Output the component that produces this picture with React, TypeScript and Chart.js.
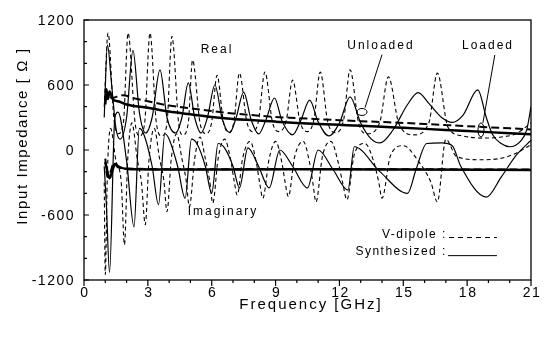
import { useEffect, useRef } from "react";
import { Chart, registerables } from "chart.js";
Chart.register(...registerables);

// [frequency GHz, impedance ohm]
const dipoleReal: number[][] = [
  [0.95, 400], [1.13, 1080], [1.4, 300], [1.6, 150], [1.85, 250], [2.07, 1080], [2.4, 250], [2.6, 130],
  [2.85, 250], [3.1, 1080], [3.4, 250], [3.65, 130], [3.9, 250], [4.13, 1050], [4.45, 240], [4.65, 140],
  [4.9, 250], [5.1, 830], [5.45, 250], [5.75, 150], [6.0, 260], [6.25, 690], [6.55, 260], [6.8, 160],
  [7.05, 270], [7.3, 710], [7.65, 260], [7.9, 170], [8.2, 270], [8.5, 720], [8.85, 260], [9.15, 170],
  [9.5, 270], [9.8, 645], [10.15, 260], [10.5, 170], [10.8, 280], [11.1, 720], [11.45, 260], [11.8, 160],
  [12.2, 280], [12.5, 740], [12.9, 250], [13.3, 150], [13.9, 260], [14.3, 675], [14.8, 240], [15.5, 140],
  [16.2, 250], [16.6, 710], [17.1, 210], [17.8, 130], [18.7, 110], [19.6, 120], [20.3, 150], [21, 250],
];
const dipoleImag: number[][] = [
  [0.95, -300], [1.0, -1150], [1.1, -200], [1.25, 200], [1.5, -100], [1.75, -300], [1.9, -875], [2.05, -100],
  [2.25, 250], [2.5, -80], [2.7, -300], [2.88, -690], [3.05, -100], [3.3, 200], [3.55, -80], [3.75, -280],
  [3.9, -570], [4.1, -80], [4.35, 150], [4.6, -80], [4.8, -280], [4.95, -525], [5.2, -80], [5.45, 120],
  [5.7, -80], [5.9, -280], [6.05, -490], [6.3, -80], [6.6, 100], [6.9, -100], [7.05, -280], [7.2, -415],
  [7.45, -80], [7.8, 80], [8.1, -120], [8.25, -300], [8.4, -445], [8.7, -80], [9.0, 80], [9.3, -120],
  [9.45, -300], [9.6, -430], [9.9, -60], [10.3, 80], [10.6, -120], [10.75, -300], [10.9, -480], [11.2, -60],
  [11.6, 80], [11.95, -120], [12.15, -300], [12.35, -460], [12.7, -40], [13.2, 60], [13.6, -100], [13.85, -300],
  [14.0, -445], [14.4, -50], [15.0, 40], [15.7, -100], [16.3, -300], [16.6, -480], [17.0, 100], [17.5, -60],
  [18.6, -90], [19.5, -80], [20.3, -30], [21, 50],
];
const synthReal: number[][] = [
  [0.95, 300], [1.1, 970], [1.3, 600], [1.5, 200], [1.7, 100], [2.0, 300], [2.3, 920], [2.6, 350],
  [2.9, 157], [3.2, 300], [3.57, 740], [3.9, 300], [4.3, 157], [4.6, 300], [4.9, 620], [5.2, 300],
  [5.5, 157], [5.8, 300], [6.15, 600], [6.5, 280], [6.85, 160], [7.15, 300], [7.5, 535], [7.85, 280],
  [8.2, 148], [8.55, 280], [8.95, 480], [9.3, 270], [9.8, 140], [10.2, 280], [10.6, 460], [11.0, 260],
  [11.5, 130], [12.0, 250], [12.5, 490], [13.0, 250], [13.5, 100], [13.9, 65], [14.5, 180], [15.2, 420],
  [15.7, 530], [16.2, 430], [16.8, 300], [17.3, 255], [17.8, 320], [18.5, 555], [18.9, 300], [19.2, 140],
  [19.6, 60], [20.0, 30], [20.5, 80], [20.8, 185], [21, 400],
];
const synthImag: number[][] = [
  [0.95, -150], [1.05, -500], [1.2, -1130], [1.45, 300], [1.6, 350], [2.0, -100], [2.35, -710], [2.6, 200],
  [2.8, 150], [3.2, -150], [3.5, -505], [3.8, 150], [4.0, 100], [4.4, -150], [4.75, -445], [5.05, 100],
  [5.3, 60], [5.7, -150], [6.0, -400], [6.3, 60], [6.6, 20], [7.0, -150], [7.3, -350], [7.7, 20],
  [8.2, -150], [8.7, -350], [9.2, 0], [9.8, -150], [10.5, -350], [11.0, 0], [11.7, -180], [12.4, -370],
  [12.7, 30], [13.9, -200], [15.2, -400], [15.6, -180], [16.1, 60], [16.8, 65], [17.3, 40], [17.7, -150],
  [18.9, -435], [19.6, -250], [20.3, -50], [21, 90],
];
const loadedSynthReal: number[][] = [
  [1.0, 420], [1.05, 560], [1.12, 470], [1.2, 540], [1.35, 470], [1.6, 450], [2, 420], [3, 390], [4, 355],
  [5, 330], [6, 305], [7, 287], [8, 275], [9, 262], [10, 250], [11, 240], [12, 232], [13, 224], [14, 215],
  [15, 205], [16, 195], [17, 185], [18, 175], [19, 165], [20, 155], [21, 145],
];
const loadedDipoleReal: number[][] = [
  [1.0, 450], [1.1, 520], [1.3, 480], [1.8, 505], [2.5, 470], [3, 450], [4, 410], [5, 385], [6, 360],
  [7, 337], [8, 320], [9, 305], [10, 295], [11, 285], [12, 275], [13, 266], [14, 258], [15, 250], [16, 240],
  [17, 230], [18, 220], [19, 210], [20, 200], [21, 190],
];
const loadedSynthImag: number[][] = [
  [1.0, -110], [1.1, -200], [1.2, -260], [1.35, -180], [1.45, -130], [1.6, -150], [2, -175], [5, -180],
  [10, -178], [15, -180], [21, -185],
];
const loadedDipoleImag: number[][] = [
  [1.0, -80], [1.1, -250], [1.25, -200], [1.4, -120], [1.6, -160], [2, -170], [5, -178], [10, -175],
  [15, -178], [21, -180],
];

const xMajorTicks = [0, 3, 6, 9, 12, 15, 18, 21];
const xMinorTicks = [1, 2, 4, 5, 7, 8, 10, 11, 13, 14, 16, 17, 19, 20];
const yMajorTicks = [1200, 600, 0, -600, -1200];
const yMinorTicks = [1000, 800, 400, 200, -200, -400, -800, -1000];

const INK = "#000";
const FONT = '"Liberation Sans", Arial, sans-serif';

const toXY = (arr: number[][]) => arr.map(([x, y]) => ({ x, y }));

const decorPlugin = {
  id: "decor",
  afterDraw(chart: any) {
    const ctx: CanvasRenderingContext2D = chart.ctx;
    const { left, right, top, bottom } = chart.chartArea;
    const xs = chart.scales.x;
    const ys = chart.scales.y;
    const X = (v: number) => xs.getPixelForValue(v);
    const Y = (v: number) => ys.getPixelForValue(v);
    ctx.save();
    ctx.strokeStyle = INK;
    ctx.fillStyle = INK;
    ctx.lineWidth = 1.3;
    ctx.strokeRect(left, top, right - left, bottom - top);
    ctx.lineWidth = 1.2;
    ctx.beginPath();
    xMajorTicks.forEach((t) => { ctx.moveTo(X(t), bottom); ctx.lineTo(X(t), bottom + 6); });
    xMinorTicks.forEach((t) => { ctx.moveTo(X(t), bottom); ctx.lineTo(X(t), bottom + 3); });
    yMajorTicks.forEach((t) => { ctx.moveTo(left, Y(t)); ctx.lineTo(left + 5, Y(t)); });
    yMinorTicks.forEach((t) => { ctx.moveTo(left, Y(t)); ctx.lineTo(left + 3, Y(t)); });
    ctx.stroke();

    const txt = (s: string, x: number, y: number, size: number, ls: number, align: CanvasTextAlign, base: CanvasTextBaseline) => {
      ctx.font = `${size}px ${FONT}`;
      (ctx as any).letterSpacing = `${ls}px`;
      ctx.textAlign = align;
      ctx.textBaseline = base;
      ctx.fillText(s, x, y);
    };
    xMajorTicks.forEach((t) => txt(String(t), X(t) + 1, bottom + 6, 14, 1.5, "center", "top"));
    yMajorTicks.forEach((t) => txt(String(t), left - 9, Y(t) + 1, 14, 1.5, "right", "middle"));
    txt("Frequency [GHz]", 311, 305, 15, 2, "center", "middle");
    ctx.save();
    ctx.translate(23, 136);
    ctx.rotate(-Math.PI / 2);
    txt("Input Impedance [ Ω ]", 0, 0, 15, 1.6, "center", "middle");
    ctx.restore();

    txt("Real", X(6.25), Y(923), 12, 2, "center", "middle");
    txt("Unloaded", X(13.95), Y(965), 12, 2, "center", "middle");
    txt("Loaded", X(18.98), Y(960), 12, 2, "center", "middle");
    txt("Imaginary", X(6.53), Y(-572), 12, 2, "center", "middle");
    txt("V-dipole :", X(17.05), Y(-808), 12, 1.5, "right", "alphabetic");
    txt("Synthesized :", X(17.05), Y(-968), 12, 1.5, "right", "alphabetic");

    ctx.lineWidth = 1;
    ctx.beginPath();
    ctx.moveTo(X(14.0), Y(880)); ctx.lineTo(X(13.2), Y(390));
    ctx.moveTo(X(19.3), Y(877)); ctx.lineTo(X(18.74), Y(250));
    ctx.stroke();
    ctx.beginPath();
    ctx.ellipse(X(13.06), Y(351), 5, 3.5, 0, 0, Math.PI * 2);
    ctx.stroke();
    ctx.beginPath();
    ctx.ellipse(X(18.65), Y(185), 3, 7, 0, 0, Math.PI * 2);
    ctx.stroke();

    ctx.lineWidth = 1;
    ctx.setLineDash([5, 4]);
    ctx.beginPath();
    ctx.moveTo(X(17.15), Y(-808)); ctx.lineTo(X(19.4), Y(-808));
    ctx.stroke();
    ctx.setLineDash([]);
    ctx.beginPath();
    ctx.moveTo(X(17.1), Y(-975)); ctx.lineTo(X(19.4), Y(-975));
    ctx.stroke();
    ctx.restore();
  },
};

export default function App() {
  const ref = useRef<HTMLCanvasElement | null>(null);
  useEffect(() => {
    if (!ref.current) return;
    const thin = { pointRadius: 0, borderColor: INK, fill: false, cubicInterpolationMode: "monotone" as const };
    const chart = new Chart(ref.current, {
      type: "line",
      data: {
        datasets: [
          { ...thin, label: "V-dipole real", data: toXY(dipoleReal), borderWidth: 1.1, borderDash: [4, 3] },
          { ...thin, label: "V-dipole imag", data: toXY(dipoleImag), borderWidth: 1.1, borderDash: [4, 3] },
          { ...thin, label: "Synthesized real", data: toXY(synthReal), borderWidth: 1.2 },
          { ...thin, label: "Synthesized imag", data: toXY(synthImag), borderWidth: 1.2 },
          { ...thin, label: "Loaded V-dipole real", data: toXY(loadedDipoleReal), borderWidth: 2, borderDash: [8, 4] },
          { ...thin, label: "Loaded V-dipole imag", data: toXY(loadedDipoleImag), borderWidth: 2, borderDash: [8, 4] },
          { ...thin, label: "Loaded synthesized real", data: toXY(loadedSynthReal), borderWidth: 2.5 },
          { ...thin, label: "Loaded synthesized imag", data: toXY(loadedSynthImag), borderWidth: 2.5 },
        ],
      },
      options: {
        responsive: false,
        animation: false,
        devicePixelRatio: 1,
        layout: { padding: { left: 0, top: 20, right: 21, bottom: 0 } },
        plugins: { legend: { display: false }, tooltip: { enabled: false } },
        scales: {
          x: {
            type: "linear", min: 0, max: 21,
            ticks: { display: false }, grid: { display: false }, border: { display: false },
            afterFit: (s: any) => { s.height = 57; },
          },
          y: {
            type: "linear", min: -1200, max: 1200,
            ticks: { display: false }, grid: { display: false }, border: { display: false },
            afterFit: (s: any) => { s.width = 84; },
          },
        },
      },
      plugins: [decorPlugin],
    });
    return () => chart.destroy();
  }, []);
  return (
    <div style={{ position: "fixed", left: 0, top: 0, width: 552, height: 337, background: "#fff" }}>
      <canvas ref={ref} width={552} height={337} />
    </div>
  );
}
